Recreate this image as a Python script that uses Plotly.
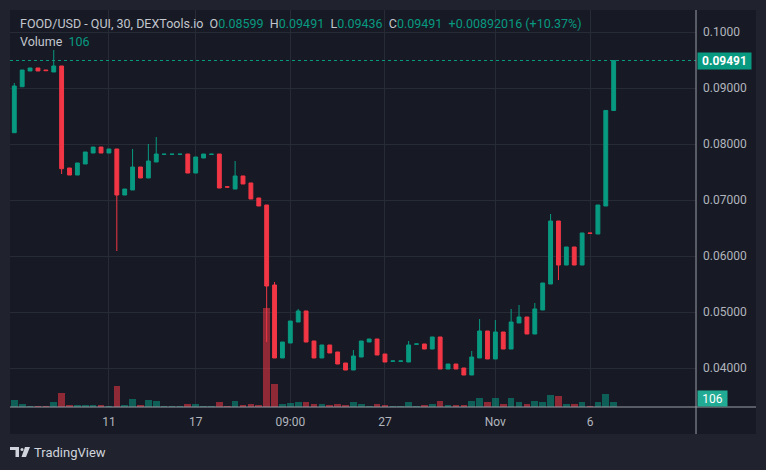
import plotly.graph_objects as go

# ---------------- data ----------------
opens = [0.08202, 0.09023, 0.09304, 0.09357, 0.09321, 0.09286, 0.09393, 0.07571, 0.07446, 0.07643,
         0.07839, 0.07946, 0.07839, 0.07911, 0.07089, 0.07179, 0.07589, 0.07393, 0.07679, 0.07815,
         0.07815, 0.07815, 0.07821, 0.07482, 0.07750, 0.07815, 0.07821, 0.07236, 0.07196, 0.07429,
         0.07304, 0.07036, 0.06911, 0.05482, 0.04179, 0.04446, 0.04821, 0.05018, 0.04482, 0.04179,
         0.04411, 0.04286, 0.04089, 0.03964, 0.04196, 0.04464, 0.04518, 0.04250, 0.04121, 0.04121,
         0.04107, 0.04425, 0.04429, 0.04339, 0.04554, 0.03982, 0.04071, 0.04000, 0.03875, 0.04179,
         0.04661, 0.04161, 0.04643, 0.04339, 0.04804, 0.04911, 0.04607, 0.05036, 0.05500, 0.06625,
         0.05839, 0.06161, 0.05839, 0.06411, 0.06393, 0.06893, 0.08599]
closes = [0.09036, 0.09321, 0.09357, 0.09304, 0.09310, 0.09393, 0.07559, 0.07446, 0.07661, 0.07857,
          0.07946, 0.07839, 0.07911, 0.07089, 0.07196, 0.07589, 0.07393, 0.07696, 0.07821, 0.07818,
          0.07818, 0.07818, 0.07482, 0.07768, 0.07821, 0.07818, 0.07214, 0.07230, 0.07429, 0.07286,
          0.07018, 0.06893, 0.05464, 0.04179, 0.04464, 0.04839, 0.05018, 0.04464, 0.04179, 0.04411,
          0.04268, 0.04071, 0.03964, 0.04214, 0.04482, 0.04518, 0.04232, 0.04107, 0.04125, 0.04125,
          0.04411, 0.04429, 0.04339, 0.04554, 0.03982, 0.04071, 0.03982, 0.03875, 0.04196, 0.04661,
          0.04161, 0.04643, 0.04339, 0.04821, 0.04911, 0.04607, 0.05054, 0.05518, 0.06625, 0.05839,
          0.06161, 0.05839, 0.06411, 0.06405, 0.06911, 0.08599, 0.09491]
# visible wick extremes (others: no visible wick beyond the body)
wick_highs = {0: 0.09090, 5: 0.09679, 15: 0.07911, 17: 0.08000, 18: 0.08125, 28: 0.07696,
              33: 0.05536, 36: 0.05054, 43: 0.04321, 50: 0.04482, 58: 0.04304, 59: 0.04875,
              61: 0.04857, 63: 0.05054, 64: 0.05125, 66: 0.05161, 68: 0.06750}
wick_lows = {6: 0.07464, 13: 0.06089, 32: 0.04464, 69: 0.05571}
volumes = [147, 63, 21, 21, 21, 105, 294, 42, 42, 42,
           42, 42, 21, 441, 42, 168, 42, 147, 126, 21,
           21, 21, 63, 63, 21, 21, 105, 21, 126, 42,
           63, 42, 2080, 483, 63, 84, 105, 105, 63, 63,
           42, 63, 42, 105, 63, 21, 63, 42, 21, 21,
           105, 21, 42, 63, 126, 42, 42, 42, 126, 189,
           105, 189, 63, 189, 105, 63, 126, 105, 252, 231,
           63, 63, 105, 21, 105, 273, 106]
tick_index = [12, 23, 35, 47, 61, 73]
tick_labels = ["11", "17", "09:00", "27", "Nov", "6"]
price_ticks = [0.04, 0.05, 0.06, 0.07, 0.08, 0.09, 0.10]
price_tick_labels = ["0.04000", "0.05000", "0.06000", "0.07000", "0.08000", "0.09000", "0.1000"]
last_price = 0.09491
last_volume = 106

n = len(opens)
idx = list(range(n))
highs = [wick_highs.get(i, max(o, c)) for i, (o, c) in enumerate(zip(opens, closes))]
lows = [wick_lows.get(i, min(o, c)) for i, (o, c) in enumerate(zip(opens, closes))]

GREEN = "#089981"
RED = "#f23645"
INNER = "#171a24"
OUTER = "#20232d"
GRID = "#272b36"
TEXT = "#b2b5be"
AXIS = "#9a9da6"

vol_colors = ["rgba(8,153,129,0.55)" if c >= o else "rgba(242,54,69,0.55)" for o, c in zip(opens, closes)]

W, H = 766, 470
PL, PR, PT, PB = 10, 696, 10, 407  # plot area in px


def px(x):
    return (x - PL) / (PR - PL)


def py(y):
    return (PB - y) / (PB - PT)


fig = go.Figure()
fig.add_trace(go.Bar(x=idx, y=volumes, marker_color=vol_colors, marker_line_width=0,
                     width=0.84, yaxis="y", hoverinfo="skip", showlegend=False))
fig.add_trace(go.Candlestick(x=idx, open=opens, high=highs, low=lows, close=closes, yaxis="y2",
                             increasing=dict(line=dict(color=GREEN, width=1), fillcolor=GREEN),
                             decreasing=dict(line=dict(color=RED, width=1), fillcolor=RED),
                             whiskerwidth=0, showlegend=False))

font_fam = "Roboto, 'Noto Sans', sans-serif"
LOGO = "#d1d4dc"
shapes = [
    dict(type="rect", xref="paper", yref="paper", x0=px(10), x1=px(756), y0=py(434), y1=py(10),
         fillcolor=INNER, line=dict(width=0), layer="below"),
    dict(type="line", xref="paper", yref="y2", x0=0, x1=1, y0=last_price, y1=last_price,
         line=dict(color=GREEN, width=1, dash="dot")),
    dict(type="line", xref="paper", yref="paper", x0=1, x1=1, y0=py(434), y1=py(10),
         line=dict(color=AXIS, width=1)),
    dict(type="line", xref="paper", yref="paper", x0=0, x1=px(756), y0=0, y1=0,
         line=dict(color=AXIS, width=1)),
    # TradingView logo
    dict(type="rect", xref="paper", yref="paper", x0=px(10), x1=px(19), y0=py(450), y1=py(447),
         fillcolor=LOGO, line=dict(width=0)),
    dict(type="rect", xref="paper", yref="paper", x0=px(15.5), x1=px(19), y0=py(457), y1=py(447),
         fillcolor=LOGO, line=dict(width=0)),
    dict(type="circle", xref="paper", yref="paper", x0=px(20.5), x1=px(23.5), y0=py(451), y1=py(448),
         fillcolor=LOGO, line=dict(width=0)),
    dict(type="path", xref="paper", yref="paper",
         path=f"M {px(25)} {py(447)} L {px(30)} {py(447)} L {px(26)} {py(457)} L {px(21.5)} {py(457)} Z",
         fillcolor=LOGO, line=dict(width=0)),
]

lbl = "#c3c6ce"
header1 = (f"<span style='color:{lbl}'>FOOD/USD - QUI, 30, DEXTools.io</span>&nbsp;&nbsp;"
           f"<span style='color:{lbl}'>O</span><span style='color:{GREEN}'>{opens[-1]:.5f}</span>&nbsp;&nbsp;"
           f"<span style='color:{lbl}'>H</span><span style='color:{GREEN}'>{highs[-1]:.5f}</span>&nbsp;&nbsp;"
           f"<span style='color:{lbl}'>L</span><span style='color:{GREEN}'>0.09436</span>&nbsp;&nbsp;"
           f"<span style='color:{lbl}'>C</span><span style='color:{GREEN}'>{closes[-1]:.5f}</span>&nbsp;&nbsp;"
           f"<span style='color:{GREEN}'>+0.00892016 (+10.37%)</span>")
header2 = (f"<span style='color:{lbl}'>Volume</span>&nbsp;&nbsp;"
           f"<span style='color:{GREEN}'>{last_volume}</span>")

annotations = [
    dict(xref="paper", yref="paper", x=px(18), y=py(23), text=header1, showarrow=False,
         xanchor="left", yanchor="middle", font=dict(size=12.5, family=font_fam)),
    dict(xref="paper", yref="paper", x=px(18), y=py(41), text=header2, showarrow=False,
         xanchor="left", yanchor="middle", font=dict(size=12.5, family=font_fam)),
    dict(xref="paper", yref="y2", x=px(697), y=last_price, text=f"<b>{last_price:.5f}</b>",
         showarrow=False, xanchor="left", yanchor="middle", bgcolor=GREEN, width=51, height=14,
         borderpad=1, font=dict(size=12, color="white", family=font_fam)),
    dict(xref="paper", yref="y", x=px(697), y=last_volume, text=f"{last_volume}", yshift=3,
         showarrow=False, xanchor="left", yanchor="middle", bgcolor="#22ab94", width=27, height=13,
         borderpad=1, font=dict(size=12, color="white", family=font_fam)),
    dict(xref="paper", yref="paper", x=px(32), y=py(452), text="TradingView", showarrow=False,
         xanchor="left", yanchor="middle", font=dict(size=13, color=LOGO, family=font_fam)),
]

fig.update_layout(
    width=W, height=H,
    margin=dict(l=PL, r=W - PR, t=PT, b=H - PB),
    paper_bgcolor=OUTER, plot_bgcolor=INNER,
    showlegend=False, bargap=0,
    xaxis=dict(range=[-0.545, 86.44], tickvals=tick_index, ticktext=tick_labels,
               showgrid=True, gridcolor=GRID, gridwidth=1, zeroline=False, showline=False,
               ticks="", ticklabelstandoff=6, tickfont=dict(size=12, color=TEXT, family=font_fam),
               rangeslider=dict(visible=False), fixedrange=True),
    yaxis=dict(range=[0, 8340], visible=False, showgrid=False, zeroline=False, fixedrange=True),
    yaxis2=dict(overlaying="y", side="right", range=[0.033036, 0.103929],
                tickvals=price_ticks, ticktext=price_tick_labels,
                showgrid=True, gridcolor=GRID, gridwidth=1, zeroline=False, showline=False,
                ticks="", ticklabelstandoff=6,
                tickfont=dict(size=12, color=TEXT, family=font_fam), fixedrange=True),
    shapes=shapes, annotations=annotations,
)

fig.write_html("out.html", config={"displayModeBar": False})
